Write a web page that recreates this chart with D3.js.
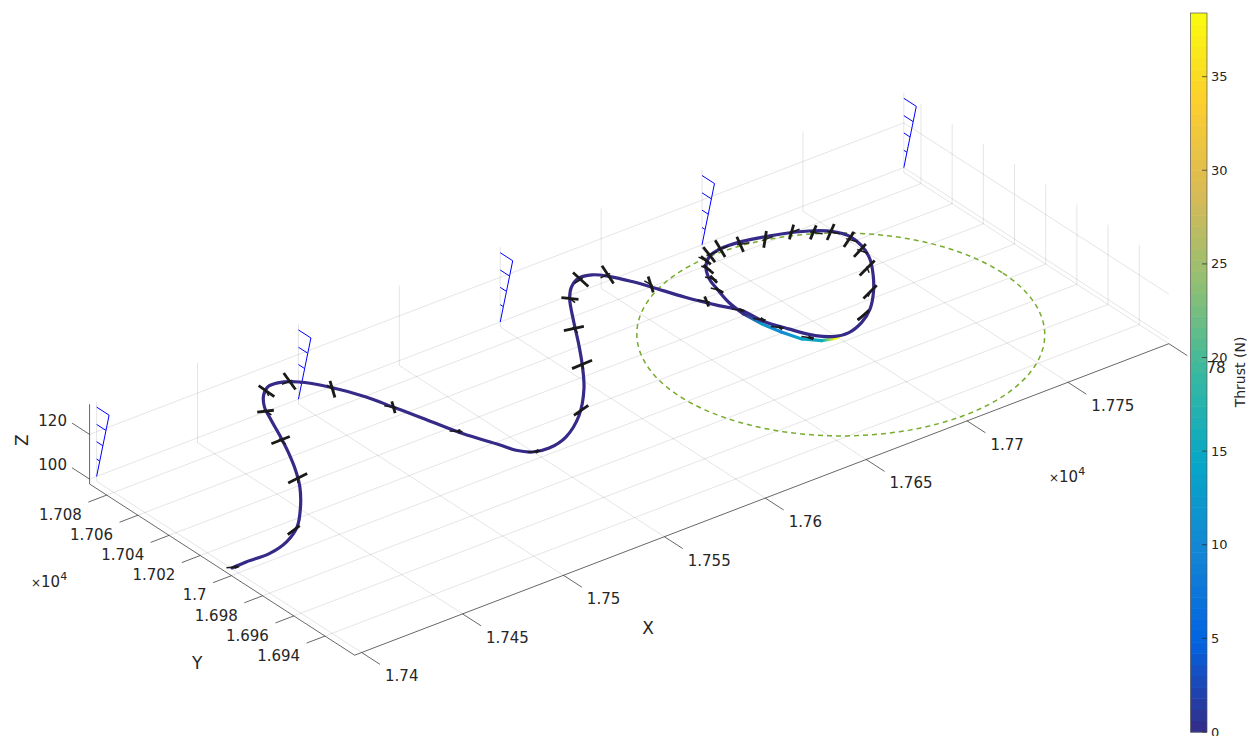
<!DOCTYPE html>
<html>
<head>
<meta charset="utf-8">
<script src="https://cdn.jsdelivr.net/npm/d3@7"></script>
<style>
  body { margin: 0; background: #fff; }
  svg { display: block; font-family: "DejaVu Sans", sans-serif; }
</style>
</head>
<body>
<svg id="chart" width="1247" height="736"></svg>
<script>
/* Axes */
const xLim = [17396.5, 17800];
const yLim = [16921, 17091];
const zLim = [97.8, 133.5];
const xTicks = [17400, 17450, 17500, 17550, 17600, 17650, 17700, 17750, 17800];
const xTickLabels = ['1.74', '1.745', '1.75', '1.755', '1.76', '1.765', '1.77', '1.775', '1.78'];
const yTicks = [16940, 16960, 16980, 17000, 17020, 17040, 17060, 17080];
const yTickLabels = ['1.694', '1.696', '1.698', '1.7', '1.702', '1.704', '1.706', '1.708'];
const zTicks = [100, 120];
const zTickLabels = ['100', '120'];

/* Flight path (m), flown at constant altitude */
const altitude = 100;
const pathX = [17398.0, 17405.6, 17416.8, 17427.6, 17438.1, 17448.8, 17458.2, 17464.9, 17471.4, 17476.8, 17481.4, 17485.7, 17491.1, 17496.4, 17501.4,
  17508.6, 17515.5, 17522.1, 17525.6, 17529.1, 17534.5, 17540.6, 17543.1, 17547.4, 17554.5, 17565.0, 17579.5, 17593.9, 17604.6, 17613.2, 17622.8,
  17632.8, 17638.9, 17645.5, 17651.3, 17655.8, 17660.5, 17664.0, 17669.5, 17675.9, 17680.7, 17682.1, 17686.4, 17691.5, 17697.3, 17703.1, 17712.3,
  17721.4, 17730.4, 17738.4, 17745.4, 17749.2, 17749.9, 17746.8, 17741.9, 17732.5, 17722.1, 17712.5, 17703.7, 17697.3, 17691.2, 17685.8, 17683.4,
  17680.6, 17679.6, 17680.5, 17682.7, 17685.7, 17691.1, 17696.4, 17699.3];
const pathY = [17001.6, 17002.0, 17001.7, 17004.9, 17011.7, 17023.4, 17036.0, 17047.4, 17060.6, 17073.0, 17084.4, 17094.3, 17101.8, 17106.0, 17106.1,
  17101.5, 17091.2, 17076.2, 17063.7, 17051.1, 17030.4, 17014.7, 17007.2, 17002.2, 17000.7, 17003.6, 17013.9, 17029.4, 17044.3, 17057.6, 17073.3,
  17088.9, 17095.7, 17099.6, 17098.5, 17093.6, 17084.8, 17076.5, 17062.3, 17049.1, 17040.5, 17029.4, 17017.9, 17007.3, 17002.1, 17001.1, 17004.5,
  17010.9, 17020.4, 17030.9, 17042.1, 17052.4, 17061.8, 17068.4, 17072.8, 17077.8, 17081.4, 17083.8, 17084.1, 17082.3, 17077.1, 17068.0, 17060.0,
  17048.8, 17038.0, 17027.4, 17017.4, 17008.5, 17002.7, 17000.9, 17001.3];
const thrust = [0, 0, 0, 0, 0, 0, 0, 0, 0, 0, 0, 0, 0, 0, 0,
  0, 0, 0, 0, 0, 0, 0, 0, 0, 0, 0, 0, 0, 0, 0, 0,
  0, 0, 0, 0, 0, 0, 0, 0, 0, 0, 0, 0, 0, 0, 0, 0,
  0, 0, 0, 0, 0, 0, 0, 0, 0, 0, 0, 0, 0, 0, 0, 0,
  0, 0, 13, 10, 14, 15, 38.4, 38.4];

/* Aircraft attitude markers: position, heading (deg), roll (deg) */
const mkX = [17399.7, 17435.5, 17461.7, 17474.7, 17484.0, 17493.9, 17505.9, 17515.4, 17525.7, 17534.6, 17549.2, 17582.6, 17605.0, 17619.8, 17633.0,
  17645.5, 17656.3, 17664.9, 17674.1, 17682.8, 17716.2, 17729.6, 17740.2, 17746.4, 17748.3, 17746.2, 17740.6, 17734.0, 17722.2, 17712.1, 17703.8,
  17697.5, 17693.7, 17690.2, 17687.0, 17683.4, 17680.7, 17684.5, 17689.0];
const mkY = [17001.2, 17010.5, 17041.9, 17069.7, 17091.4, 17103.6, 17104.3, 17089.1, 17063.3, 17032.6, 17001.5, 17016.6, 17045.0, 17069.4, 17089.0,
  17098.3, 17094.9, 17078.5, 17054.5, 17029.9, 17008.5, 17021.5, 17037.1, 17049.8, 17059.3, 17068.3, 17072.2, 17077.6, 17079.3, 17082.2, 17084.3,
  17083.2, 17080.4, 17074.2, 17066.7, 17058.5, 17040.8, 17020.7, 17007.0];
const mkHead = [-28, 14, 54, 84, 90, 65, 1, -93, -56, -41, -28, 29, 61, 75, 84, 13, 4, -87, -57, -51,
  14, 40, 64, 108, 113, 122, 126, 177, 178, 161, 173, 178, -79, -80, -65, -67, -51, -51, -54];
const mkRoll = [-32, -46, -29, -5, 14, 42, 29, -74, -61, -40, -37, -44, -21, 0, 22, 24, 36, -72, -56, -37,
  -49, -51, -45, -13, -19, -20, -12, 70, 78, -16, -26, -21, -46, -47, -46, -40, -34, -37, -34];
const wingSpan = 8.5;

/* Wind profiles */
const windX = [17400, 17500, 17600, 17700, 17800];
const windY = 17091;
const windZ = [100, 107.75, 115.5, 123.25, 131];
const windSpeed = [0, 2, 4, 6, 8];

/* Thermal */
const thermalCenter = [17700, 17002];
const thermalRadius = 80;

/* Colorbar */
const cMax = 38.4;
const cTicks = [0, 5, 10, 15, 20, 25, 30, 35];
const parulaStops = ['#352a87', '#0363e1', '#1485d4', '#06a7c6', '#38b99e', '#92bf73', '#d9ba56', '#fcce2e', '#f9fb0e'];

/* Projection: each axis scale returns a screen offset vector */
const svg = d3.select('#chart');
const origin = [354.6, 655.2];
const perUnit = { x: [2.018, -0.772], y: [-1.559, -1.007], z: [0, -2.235] };
const axisScale = (lim, v) => d3.scaleLinear().domain(lim)
  .range([[0, 0], [(lim[1] - lim[0]) * v[0], (lim[1] - lim[0]) * v[1]]]);
const xs = axisScale(xLim, perUnit.x);
const ys = axisScale(yLim, perUnit.y);
const zs = axisScale(zLim, perUnit.z);
function proj(x, y, z) {
  const a = xs(x), b = ys(y), c = zs(z);
  return [origin[0] + a[0] + b[0] + c[0], origin[1] + a[1] + b[1] + c[1]];
}
function seg(g, p, q) {
  return g.append('line').attr('x1', p[0]).attr('y1', p[1]).attr('x2', q[0]).attr('y2', q[1]);
}
const parula = d3.scaleLinear()
  .domain(parulaStops.map((c, i) => i / (parulaStops.length - 1) * cMax))
  .range(parulaStops).interpolate(d3.interpolateRgb).clamp(true);

/* Grid on floor and back walls */
const grid = svg.append('g').attr('stroke', '#262626').attr('stroke-opacity', 0.15).attr('stroke-width', 0.8);
xTicks.forEach(x => {
  seg(grid, proj(x, yLim[0], zLim[0]), proj(x, yLim[1], zLim[0]));
  seg(grid, proj(x, yLim[1], zLim[0]), proj(x, yLim[1], zLim[1]));
});
yTicks.forEach(y => {
  seg(grid, proj(xLim[0], y, zLim[0]), proj(xLim[1], y, zLim[0]));
  seg(grid, proj(xLim[1], y, zLim[0]), proj(xLim[1], y, zLim[1]));
});
zTicks.forEach(z => {
  seg(grid, proj(xLim[0], yLim[1], z), proj(xLim[1], yLim[1], z));
  seg(grid, proj(xLim[1], yLim[0], z), proj(xLim[1], yLim[1], z));
});

/* Axis lines, ticks, labels */
const ax = svg.append('g').attr('stroke', '#262626').attr('stroke-width', 0.7);
seg(ax, proj(xLim[0], yLim[0], zLim[0]), proj(xLim[1], yLim[0], zLim[0]));
seg(ax, proj(xLim[0], yLim[0], zLim[0]), proj(xLim[0], yLim[1], zLim[0]));
seg(ax, proj(xLim[0], yLim[1], zLim[0]), proj(xLim[0], yLim[1], zLim[1]));

const lbl = svg.append('g').attr('fill', '#262626').style('font-size', '15px');
xTicks.forEach((x, i) => {
  const p = proj(x, yLim[0], zLim[0]), q = proj(x, yLim[0] - 11.8, zLim[0]);
  seg(ax, p, q);
  lbl.append('text').attr('x', q[0] + 5).attr('y', q[1] + 17).text(xTickLabels[i]);
});
yTicks.forEach((y, i) => {
  const p = proj(xLim[0], y, zLim[0]), q = proj(xLim[0] - 9.1, y, zLim[0]);
  seg(ax, p, q);
  lbl.append('text').attr('x', q[0] - 6.5).attr('y', q[1] + 17.8).attr('text-anchor', 'end').text(yTickLabels[i]);
});
zTicks.forEach((z, i) => {
  const p = proj(xLim[0], yLim[1], z), q = proj(xLim[0], yLim[1] + 11.3, z);
  seg(ax, p, q);
  lbl.append('text').attr('x', q[0] - 5).attr('y', q[1] + 2.5).attr('text-anchor', 'end').text(zTickLabels[i]);
});

function expLabel(x, y) {
  const t = lbl.append('text').attr('x', x).attr('y', y);
  t.append('tspan').style('font-size', '12px').text('×');
  t.append('tspan').text('10');
  t.append('tspan').attr('dy', -7).style('font-size', '11px').text('4');
}
expLabel(31, 586.5);
expLabel(1049, 482);

const title = svg.append('g').attr('fill', '#262626').style('font-size', '17px')
  .attr('text-anchor', 'middle').attr('dominant-baseline', 'central');
const xMid = proj(d3.mean(xLim), yLim[0], zLim[0]);
const yMid = proj(xLim[0], d3.mean(yLim), zLim[0]);
const zMid = proj(xLim[0], yLim[1], d3.mean(zLim));
title.append('text').attr('x', xMid[0] - 113.7).attr('y', xMid[1] + 128.6).text('X');
title.append('text').attr('x', yMid[0] - 25).attr('y', yMid[1] + 93.4).text('Y');
title.append('text').attr('transform', `translate(${zMid[0] - 67.6},${zMid[1] - 4}) rotate(-90)`).text('Z');

/* Thermal circle */
const circ = d3.range(0, 361, 3).map(a => {
  const r = a * Math.PI / 180;
  return proj(thermalCenter[0] + thermalRadius * Math.cos(r), thermalCenter[1] + thermalRadius * Math.sin(r), altitude);
});
svg.append('path').attr('d', d3.line()(circ)).attr('fill', 'none')
  .attr('stroke', '#77ac30').attr('stroke-width', 1.5).attr('stroke-dasharray', '5,4');

/* Wind profiles */
windX.forEach(wx => {
  const g = svg.append('g').attr('stroke', '#0000ff').attr('stroke-width', 1).attr('fill', 'none');
  windZ.forEach((z, i) => seg(g, proj(wx, windY, z), proj(wx, windY - windSpeed[i], z)));
  g.append('path').attr('d', d3.line()(windZ.map((z, i) => proj(wx, windY - windSpeed[i], z))));
});

/* Flight path coloured by thrust */
const pts = pathX.map((x, i) => proj(x, pathY[i], altitude));
const defs = svg.append('defs');
const lastDark = thrust.findIndex(t => t > 0) - 1;
const pathG = svg.append('g').attr('fill', 'none').attr('stroke-linecap', 'round').attr('stroke-width', 3.2);
for (let i = lastDark; i < pts.length - 1; i++) {
  const id = 'tg' + i;
  const lg = defs.append('linearGradient').attr('id', id).attr('gradientUnits', 'userSpaceOnUse')
    .attr('x1', pts[i][0]).attr('y1', pts[i][1]).attr('x2', pts[i + 1][0]).attr('y2', pts[i + 1][1]);
  lg.append('stop').attr('offset', 0).attr('stop-color', parula(thrust[i]));
  lg.append('stop').attr('offset', 1).attr('stop-color', parula(thrust[i + 1]));
  pathG.append('path').attr('d', d3.line()([pts[i], pts[i + 1]])).attr('stroke', `url(#${id})`);
}
pathG.append('path').attr('d', d3.line().curve(d3.curveCatmullRom)(pts.slice(0, lastDark + 1)))
  .attr('stroke', parula(0));

/* Attitude markers: wing bar and short fuselage */
const mk = svg.append('g').attr('stroke', '#1a1a1a').attr('stroke-linecap', 'butt');
mkX.forEach((x, i) => {
  const c = [x, mkY[i], altitude];
  const psi = mkHead[i] * Math.PI / 180, phi = mkRoll[i] * Math.PI / 180;
  const n = [Math.cos(psi), Math.sin(psi), 0];
  const w = [-Math.sin(psi) * Math.cos(phi), Math.cos(psi) * Math.cos(phi), Math.sin(phi)];
  const at = (v, s) => proj(c[0] + v[0] * s, c[1] + v[1] * s, c[2] + v[2] * s);
  seg(mk, at(w, -wingSpan / 2), at(w, wingSpan / 2)).attr('stroke-width', 2.8);
  seg(mk, at(n, -0.45 * wingSpan), at(n, 0.15 * wingSpan)).attr('stroke-width', 1.5);
});

/* Colorbar */
const cb = { x: 1190.5, y: 13, w: 16.5, h: 719 };
const cy = d3.scaleLinear().domain([0, cMax]).range([cb.y + cb.h, cb.y]);
const nBands = 64;
svg.append('g').selectAll('rect').data(d3.range(nBands)).join('rect')
  .attr('x', cb.x).attr('width', cb.w)
  .attr('y', k => cy((k + 1) / nBands * cMax)).attr('height', cb.h / nBands + 0.5)
  .attr('fill', k => parula((k + 0.5) / nBands * cMax));
svg.append('rect').attr('x', cb.x).attr('y', cb.y).attr('width', cb.w).attr('height', cb.h)
  .attr('fill', 'none').attr('stroke', '#555').attr('stroke-width', 0.7);
const cbt = svg.append('g').attr('stroke', '#262626').attr('stroke-width', 0.7);
const cbl = svg.append('g').attr('fill', '#262626').style('font-size', '13px');
cTicks.forEach(v => {
  seg(cbt, [cb.x + cb.w - 5, cy(v)], [cb.x + cb.w, cy(v)]);
  cbl.append('text').attr('x', cb.x + cb.w + 4).attr('y', cy(v)).attr('dominant-baseline', 'central').text(v);
});
svg.append('text').attr('transform', 'translate(1240,372) rotate(-90)').attr('text-anchor', 'middle')
  .attr('dominant-baseline', 'central').attr('fill', '#262626').style('font-size', '14px').text('Thrust (N)');
</script>
</body>
</html>
